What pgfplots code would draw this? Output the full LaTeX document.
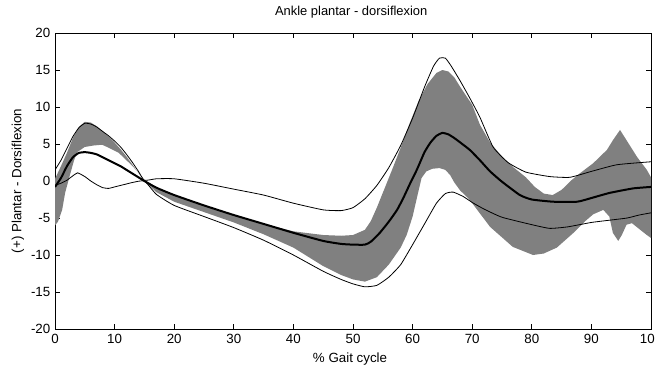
\documentclass[border=0pt]{standalone}
\usepackage{fontspec}
\setmainfont{Liberation Sans}
\usepackage{pgfplots}
\pgfplotsset{compat=1.18}
\usepgfplotslibrary{fillbetween}

\begin{document}
\begin{tikzpicture}
\begin{axis}[
  scale only axis,
  width=447pt, height=222pt,
  xmin=0, xmax=100, ymin=-20, ymax=20,
  xtick={0,10,...,100}, ytick={-20,-15,...,20},
  tick align=inside, tick pos=both,
  major tick length=3.5pt,
  axis line style={black, line width=0.5pt},
  every tick/.style={black, line width=0.5pt},
  /pgf/number format/assume math mode=true,
  tick label style={font=\fontsize{10}{12}\selectfont},
  title={Ankle plantar - dorsiflexion},
  title style={font=\fontsize{9.7}{12}\selectfont, at={(axis description cs:0.497,1)}, anchor=base, yshift=6.75pt},
  xlabel={\% Gait cycle},
  xlabel style={font=\fontsize{10}{12}\selectfont, at={(axis description cs:0.495,0)}, anchor=base, yshift=-24.75pt},
  ylabel={(+) Plantar - Dorsiflexion},
  ylabel style={font=\fontsize{10}{12}\selectfont, at={(axis description cs:-0.0621,0.5)}, rotate=0, anchor=center},
  clip=true,
]
\addplot[draw=none, name path=gup] coordinates {
(0,0.3) (1,2.0) (2,3.8) (3,5.8) (4,7.3) (5,8.0) (6,7.9) (7,7.4) (8,6.7) (9,6.0) (10,5.2) (11,4.3) (12,3.3) (13,2.2) (14,1.1) (15,0.0)
(17,-0.9) (20,-1.9) (25,-3.3) (30,-4.6) (35,-5.8) (40,-6.8) (45,-7.3) (48,-7.4) (50,-7.3) (52,-6.6) (53,-5.4) (54,-3.6) (55,-1.6)
(56.5,1.4) (58,4.5) (59.5,7.8) (61,10.8) (62.5,13.1) (64,14.6) (65,15.0) (66,14.8) (67,14.0) (68,12.7) (69,11.5) (70,10.3) (71.3,7.6) (73,5.2)
(75,3.3) (77,1.8) (79,0.5) (80.5,-0.8) (82,-1.7) (83.5,-1.9) (85,-1.2) (86.5,0.0) (88,1.0) (90.3,2.4) (92.6,4.2) (93.6,5.5) (94.8,6.9)
(95.9,5.5) (97.7,3.2) (99.3,1.5) (100,0.5)
};
\addplot[draw=none, name path=glo] coordinates {
(0,-6.0) (0.5,-5.5) (1.2,-3.9) (1.7,-1.6) (2.5,0.8) (3.2,2.8) (3.7,3.9) (5,4.6) (6.5,4.8) (7.9,4.9) (9,4.5) (10.7,3.8) (12,2.8) (13,2.0)
(14.1,1.1) (15,0.0) (17,-1.5) (20,-2.8) (25,-4.2) (30,-5.6) (35,-7.2) (40,-9.0) (45,-11.5) (48,-12.7) (50,-13.3) (52,-13.6) (54,-13.0)
(56,-11.3) (58,-9.0) (59,-7.3) (60,-4.8) (60.8,-2.0) (61.5,0.4) (62.3,1.3) (63.3,1.65) (64.5,1.75) (65.5,1.5) (66.3,0.8) (67,-0.2)
(68,-1.3) (69.3,-2.3) (70,-3.0) (73,-6.2) (76.8,-8.9) (80.2,-10.0) (82,-9.8) (84.2,-9.0) (87,-7.0) (89,-5.4) (90.3,-4.5) (92,-3.9)
(93,-4.8) (93.6,-7.0) (94.5,-8.1) (95.1,-7.3) (95.9,-5.9) (96.8,-5.7) (98.2,-6.6) (99.3,-7.3) (100,-7.7)
};
\addplot[fill=black!50, draw=none] fill between[of=gup and glo];
% thin upper line
\addplot[black, line width=0.6pt, smooth, tension=0.3] coordinates {
(0,1.5) (1,2.8) (2,4.4) (3,6.0) (4,7.2) (5,7.8) (6,7.7) (7,7.3) (8,6.7) (9,6.1) (10,5.4) (11,4.6) (12,3.6) (13,2.5) (14,1.3) (15,0.1)
(17,0.3) (20,0.3) (25,-0.3) (30,-1.1) (35,-1.9) (40,-3.0) (45,-3.9) (48,-4.0) (50,-3.6) (52,-2.4) (54,-0.6) (56,1.8) (58,4.8) (60,8.5)
(62,12.7) (63.5,15.5) (64.5,16.6) (65.5,16.6) (66.5,15.5) (68,13.5) (69.6,11.2) (71.3,8.6) (73.5,4.6) (76,2.5) (79,1.2) (83,0.6)
(86.4,0.5) (90,1.3) (94.3,2.2) (100,2.6)
};
% thin lower line
\addplot[black, line width=0.6pt, smooth, tension=0.3] coordinates {
(0,-0.6) (1,-0.3) (2,0.1) (3,0.7) (3.8,1.1) (5,0.6) (6,0.0) (7,-0.5) (8,-0.9) (9,-1.0) (10,-0.8) (11,-0.6) (12,-0.4) (13,-0.2) (15,0.0)
(17,-1.8) (20,-3.3) (25,-4.8) (30,-6.3) (35,-8.0) (40,-10.0) (45,-12.2) (48,-13.3) (50,-13.9) (52,-14.3) (54,-14.1) (56,-13.0)
(58,-11.3) (60,-8.6) (62,-5.8) (64,-3.0) (65.5,-1.7) (66.8,-1.5) (68.5,-2.1) (70,-2.9) (72,-3.8) (75,-4.9) (80,-5.9) (83,-6.4)
(86,-6.2) (90,-5.6) (93,-5.3) (96,-5.0) (98,-4.6) (100,-4.3)
};
% thick mean line
\addplot[black, line width=1.5pt, smooth, tension=0.3] coordinates {
(0,-0.8) (1,0.4) (2,2.0) (3,3.2) (4,3.8) (5,3.9) (6,3.8) (7,3.6) (8,3.2) (9,2.8) (10,2.4) (11,2.0) (12,1.5) (13,1.0) (14,0.5) (15,0.0)
(17,-0.9) (20,-1.9) (25,-3.3) (30,-4.6) (35,-5.8) (40,-7.0) (45,-8.1) (48,-8.5) (50,-8.6) (52,-8.6) (53,-8.2) (54.5,-7.0) (56,-5.5)
(57.4,-3.9) (58.5,-2.2) (59.6,-0.3) (60.7,1.5) (62,3.9) (63,5.2) (64,6.1) (65,6.5) (66,6.3) (67,5.8) (68,5.2) (69.6,4.2) (71.3,2.8)
(73,1.3) (75,-0.1) (78,-1.9) (80,-2.5) (83.6,-2.8) (87.6,-2.8) (90,-2.3) (93.1,-1.6) (97,-1.0) (100,-0.8)
};
\end{axis}
\pgfresetboundingbox
\path[use as bounding box] (-41.25pt,-26.25pt) rectangle (450pt,246.75pt);
\end{tikzpicture}
\end{document}
